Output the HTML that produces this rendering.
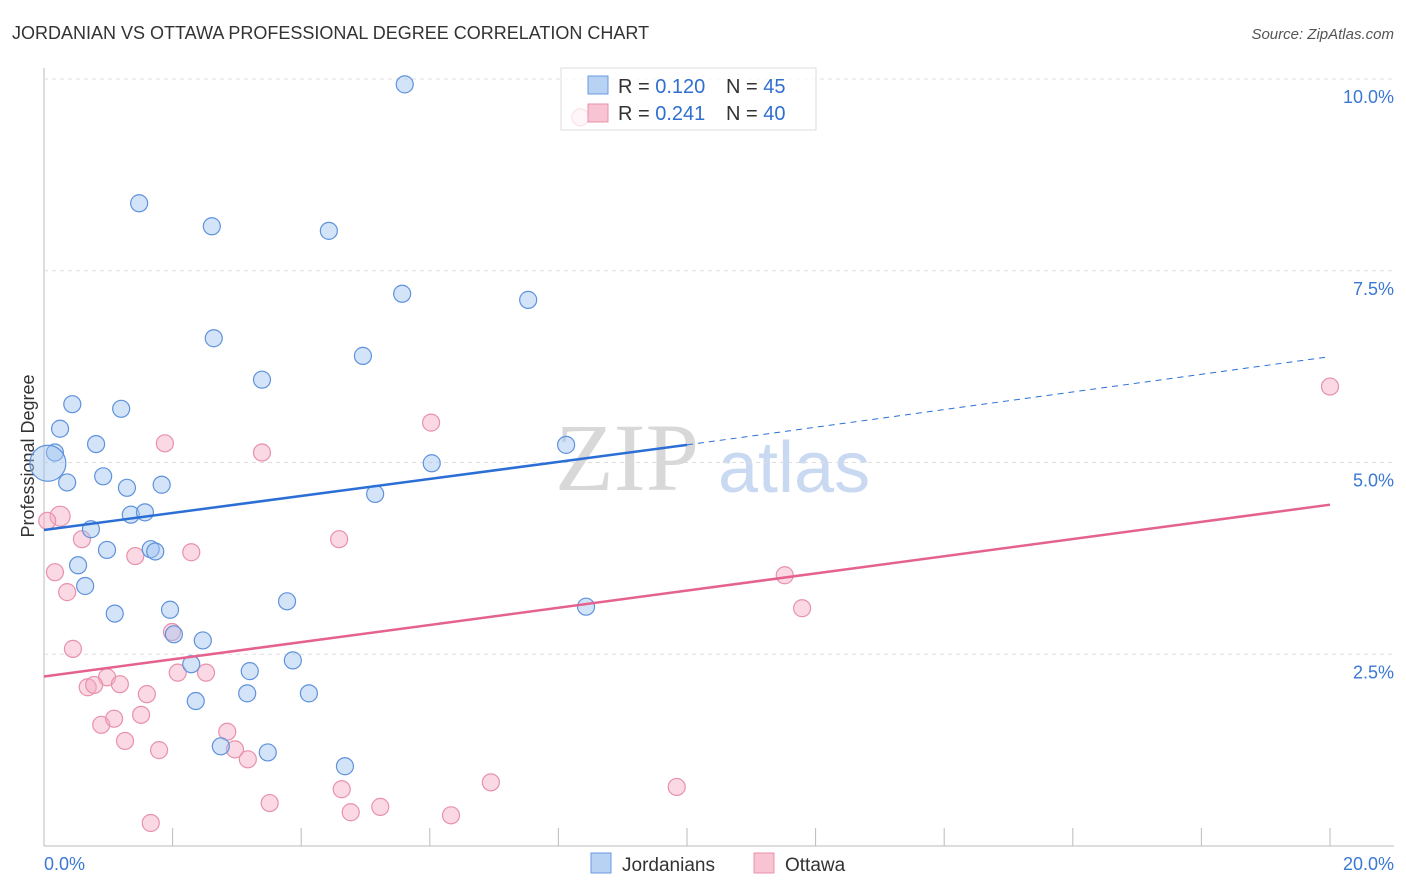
<!DOCTYPE html>
<html><head><meta charset="utf-8"><style>
body{margin:0;background:#fff;font-family:"Liberation Sans",sans-serif;}
svg{display:block}
</style></head><body>
<svg id="c" width="1406" height="892" xmlns="http://www.w3.org/2000/svg">
<text x="12" y="39" font-size="18" fill="#333">JORDANIAN VS OTTAWA PROFESSIONAL DEGREE CORRELATION CHART</text>
<text x="1394" y="39" font-size="15" fill="#555" font-style="italic" text-anchor="end">Source: ZipAtlas.com</text>
<text x="34" y="456" font-size="18" fill="#333" text-anchor="middle" transform="rotate(-90 34 456)">Professional Degree</text>
<text x="555" y="490" font-size="96" fill="#d8d8d8" font-family="Liberation Serif,serif">ZIP</text>
<text x="718" y="492" font-size="72" fill="#c9d9f2">atlas</text>
<g id="grid"></g><g id="marks"></g><g id="lines"></g>
<g>
<rect x="561" y="68" width="255" height="62" fill="#fff" fill-opacity="0.75" stroke="#ddd"/>
<rect x="588" y="76" width="20" height="18" fill="#b8d2f3" stroke="#6a9ae0"/>
<rect x="588" y="104" width="20" height="18" fill="#f8c4d3" stroke="#e891aa"/>
<text x="618" y="93" font-size="20" fill="#333">R = <tspan fill="#2f6fd0">0.120</tspan></text>
<text x="726" y="93" font-size="20" fill="#333">N = <tspan fill="#2f6fd0">45</tspan></text>
<text x="618" y="120" font-size="20" fill="#333">R = <tspan fill="#2f6fd0">0.241</tspan></text>
<text x="726" y="120" font-size="20" fill="#333">N = <tspan fill="#2f6fd0">40</tspan></text>
</g>
<g>
<rect x="591" y="853" width="20" height="20" fill="#b8d2f3" stroke="#6a9ae0"/>
<text x="622" y="871" font-size="19" fill="#333">Jordanians</text>
<rect x="754" y="853" width="20" height="20" fill="#f8c4d3" stroke="#e891aa"/>
<text x="785" y="871" font-size="19" fill="#333">Ottawa</text>
</g>
<text x="44" y="870" font-size="18" fill="#3a78d4">0.0%</text>
<text x="1394" y="870" font-size="18" fill="#3a78d4" text-anchor="end">20.0%</text>
</svg>
<script>
const yTicks=[2.5,5.0,7.5,10.0];
const blueX=[5.61,1.48,2.61,4.43,5.57,7.53,2.64,4.96,3.39,0.44,1.2,0.25,0.81,0.17,0.06,6.03,0.36,0.92,1.29,1.83,5.15,1.35,1.57,0.73,0.98,1.66,1.73,0.53,0.64,3.78,1.1,1.96,8.43,2.02,2.47,3.87,2.29,3.2,3.16,4.12,2.36,2.75,3.48,4.68,8.12];
const blueY=[9.93,8.38,8.08,8.02,7.2,7.12,6.62,6.39,6.08,5.76,5.7,5.44,5.24,5.13,4.99,4.99,4.74,4.82,4.67,4.71,4.59,4.32,4.35,4.13,3.86,3.87,3.84,3.66,3.39,3.19,3.03,3.08,3.12,2.76,2.68,2.42,2.37,2.28,1.99,1.99,1.89,1.3,1.22,1.04,5.23];
const pinkX=[8.34,20.0,6.02,1.88,3.39,0.25,0.05,0.59,4.59,2.29,1.42,0.17,0.36,11.52,11.79,1.99,0.45,2.08,2.52,0.98,0.68,0.78,1.18,1.6,0.89,1.09,1.51,1.26,2.85,1.79,2.97,3.17,6.95,9.84,4.63,3.51,5.23,4.77,6.33,1.66];
const pinkY=[9.5,5.99,5.52,5.25,5.13,4.3,4.24,4.0,4.0,3.83,3.78,3.57,3.31,3.53,3.1,2.79,2.57,2.26,2.26,2.2,2.07,2.1,2.11,1.98,1.58,1.66,1.71,1.37,1.49,1.25,1.26,1.13,0.83,0.77,0.74,0.56,0.51,0.44,0.4,0.3];
const blueLine=[0,4.12,10,5.23,20,6.38];
const pinkLine=[0,2.21,20,4.45];
const X=v=>44+v/20*1286, Y=v=>846-v/10*767;
const NS='http://www.w3.org/2000/svg';
function mk(t,a,p){const e=document.createElementNS(NS,t);for(const k in a)e.setAttribute(k,a[k]);p.appendChild(e);return e;}
const g=document.getElementById('grid'),m=document.getElementById('marks'),l=document.getElementById('lines');
mk('line',{x1:44,y1:68,x2:44,y2:846,stroke:'#bbb'},g);
mk('line',{x1:44,y1:846,x2:1394,y2:846,stroke:'#bbb'},g);
for(let i=1;i<=10;i++){const x=44+i*128.6;const t=mk('line',{x1:x,y1:828,x2:x,y2:846,stroke:'#bbb'},g);}
yTicks.forEach(v=>{const y=Y(v);
const gl=mk('line',{x1:44,y1:y,x2:1394,y2:y,stroke:'#ddd','stroke-dasharray':'4 4'},g);


const t=mk('text',{x:1394,y:y+24,'font-size':18,fill:'#3a78d4','text-anchor':'end'},g);


t.textContent=v.toFixed(1)+'%';});
pinkX.forEach((v,i)=>{const c=mk('circle',{cx:X(v),cy:Y(pinkY[i]),r:(i==5?10:8.5),fill:'rgba(245,170,195,0.45)',stroke:'#e891aa','stroke-width':1.2},m);

});
blueX.forEach((v,i)=>{const c=mk('circle',{cx:X(v),cy:Y(blueY[i]),r:(i==14?18:8.5),fill:'rgba(160,195,240,0.45)',stroke:'#5f92dc','stroke-width':1.2},m);

});
let e=mk('line',{x1:X(blueLine[0]),y1:Y(blueLine[1]),x2:X(blueLine[2]),y2:Y(blueLine[3]),stroke:'#2b6fd6','stroke-width':2.5},l);


e=mk('line',{x1:X(blueLine[2]),y1:Y(blueLine[3]),x2:X(blueLine[4]),y2:Y(blueLine[5]),stroke:'#2b6fd6','stroke-width':1,'stroke-dasharray':'6 5'},l);


e=mk('line',{x1:X(pinkLine[0]),y1:Y(pinkLine[1]),x2:X(pinkLine[2]),y2:Y(pinkLine[3]),stroke:'#e5628e','stroke-width':2.5},l);


</script>
</body></html>
